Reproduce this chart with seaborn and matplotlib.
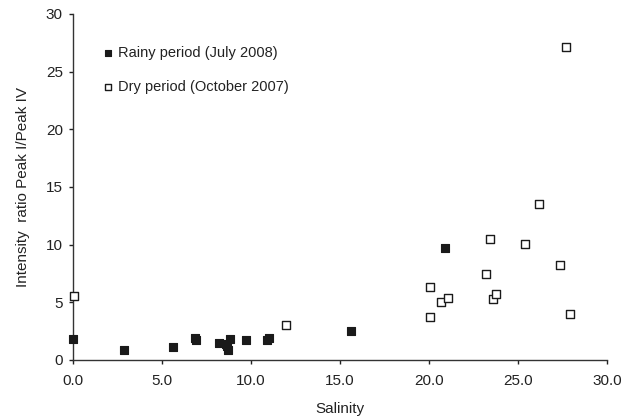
import matplotlib
matplotlib.use("Agg")
import matplotlib.pyplot as plt
import seaborn as sns
import pandas as pd

rainy_salinity = [0.0, 2.9, 5.6, 6.85, 6.9, 8.2, 8.6, 8.8, 8.7, 8.65, 9.7, 10.9, 11.0, 15.6, 20.9]
rainy_ratio = [1.8, 0.9, 1.1, 1.9, 1.7, 1.5, 1.4, 1.8, 0.9, 1.2, 1.7, 1.7, 1.9, 2.55, 9.7]

dry_salinity = [0.05, 11.95, 20.05, 20.05, 20.7, 21.05, 23.2, 23.4, 23.6, 23.75, 25.4, 26.15, 27.35, 27.9, 27.7]
dry_ratio = [5.5, 3.0, 6.35, 3.7, 5.0, 5.35, 7.45, 10.45, 5.3, 5.7, 10.05, 13.55, 8.25, 4.0, 27.1]

x_ticks = [0, 5, 10, 15, 20, 25, 30]
x_tick_labels = ["0.0", "5.0", "10.0", "15.0", "20.0", "25.0", "30.0"]
y_ticks = [0, 5, 10, 15, 20, 25, 30]

rainy = pd.DataFrame({"Salinity": rainy_salinity, "Ratio": rainy_ratio})
dry = pd.DataFrame({"Salinity": dry_salinity, "Ratio": dry_ratio})

sns.set_style("ticks")
plt.rcParams["font.family"] = ["Liberation Sans", "DejaVu Sans"]

fig = plt.figure(figsize=(6.22, 4.2), dpi=100)
ax = fig.add_axes([0.117, 0.143, 0.859, 0.824])

sns.scatterplot(data=rainy, x="Salinity", y="Ratio", ax=ax, marker="s", s=30,
                color="#1a1a1a", edgecolor="#1a1a1a", linewidth=0.8,
                label="Rainy period (July 2008)", clip_on=False, zorder=3)
sns.scatterplot(data=dry, x="Salinity", y="Ratio", ax=ax, marker="s", s=30,
                facecolor="white", edgecolor="#1a1a1a", linewidth=1.0,
                label="Dry period (October 2007)", clip_on=False, zorder=3)

ax.set_xlim(0, 30)
ax.set_ylim(0, 30)
ax.set_xticks(x_ticks)
ax.set_xticklabels(x_tick_labels)
ax.set_yticks(y_ticks)
ax.tick_params(axis="both", labelsize=11, colors="#222222", length=3.2, width=1, direction="out")
ax.tick_params(axis="x", pad=7)
ax.tick_params(axis="y", pad=4)
for sp in ["left", "bottom"]:
    ax.spines[sp].set_color("#333333")
    ax.spines[sp].set_linewidth(1.0)
sns.despine(ax=ax)

ax.set_xlabel("Salinity", fontsize=11, color="#222222", labelpad=10)
ax.set_ylabel("Intensity  ratio Peak I/Peak IV", fontsize=11, color="#222222", labelpad=11)

leg = ax.legend(loc="upper left", bbox_to_anchor=(0.025, 0.945), frameon=False,
                fontsize=10.5, handletextpad=0.1, labelspacing=1.35, markerscale=0.8,
                handlelength=1.2)
for t in leg.get_texts():
    t.set_color("#222222")

fig.savefig("out.png", dpi=100)
